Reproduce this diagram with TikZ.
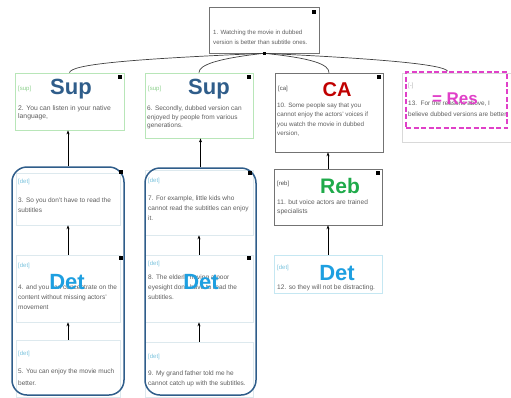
\documentclass[tikz,border=0pt]{standalone}
\usepackage{fontspec}
\setmainfont{Liberation Sans}
\usetikzlibrary{calc,arrows.meta,fit}
\definecolor{txtgray}{HTML}{5E5E5E}
\definecolor{supgreen}{HTML}{8ACF8A}
\definecolor{supborder}{HTML}{B8E6B8}
\definecolor{dettag}{HTML}{7CC3DD}
\definecolor{detborder}{HTML}{C5E7F2}
\definecolor{inner}{HTML}{DDE9EE}
\definecolor{colout}{HTML}{2F5D8A}
\definecolor{suplab}{HTML}{2F5D8A}
\definecolor{calab}{HTML}{C00000}
\definecolor{reblab}{HTML}{1FAA4A}
\definecolor{detlab}{HTML}{1E9FE0}
\definecolor{reslab}{HTML}{E040C8}
\tikzset{
  gbox/.style={draw=black!55, line width=0.6pt},
  sbox/.style={draw=supborder, line width=0.8pt},
  dbox/.style={draw=detborder, line width=0.8pt},
  ibox/.style={draw=inner, line width=0.6pt},
  colbox/.style={draw=colout, line width=1.5pt, rounded corners=15pt},
  txt/.style={font=\fontsize{6.5}{8.8}\selectfont, text=txtgray, anchor=north west, inner sep=0pt, align=left},
  tag/.style={font=\fontsize{6}{7}\selectfont, anchor=base west, inner sep=0pt},
  big/.style={font=\fontsize{22}{22}\selectfont\bfseries, inner sep=0pt},
  sq/.style={fill=black, minimum size=4pt, inner sep=0pt},
  arr/.style={-{Stealth[length=4pt,width=3pt]}, line width=0.6pt},
  con/.style={line width=0.7pt, black!75}
}
\begin{document}
\begin{tikzpicture}[x=1pt,y=-1pt]
\useasboundingbox (0,0) rectangle (511,397);
% top
\node[gbox, fit={(209,7)(319,53)}, inner sep=0pt] (top) {};
\node[txt, font=\fontsize{6.1}{10.5}\selectfont] (t1) at (213,29.6) {1. Watching the movie in dubbed\\version is better than subtitle ones.};
\node[sq] (q0) at (314,12) {};
% row 1
\node[sbox, fit={(15,73)(124,130)}, inner sep=0pt] (sup1) {};
\node[tag, text=supgreen] (g2) at (18,90) {[sup]};
\node[big, text=suplab] (L2) at (71,89) {Sup};
\node[txt, font=\fontsize{6.8}{8}\selectfont] (t2) at (18,105) {2. You can listen in your native\\language,};
\node[sq] (q2) at (120,77) {};

\node[sbox, fit={(145,73)(253,138)}, inner sep=0pt] (sup2) {};
\node[tag, text=supgreen] (g6) at (148,90) {[sup]};
\node[big, text=suplab] (L6) at (209,89) {Sup};
\node[txt] (t6) at (147,105.3) {6. Secondly, dubbed version can\\enjoyed by people from various\\generations.};
\node[sq] (q6) at (249,77) {};

\node[gbox, fit={(275,73)(383,152)}, inner sep=0pt] (ca) {};
\node[tag, text=black!70] (g10) at (278,90) {[ca]};
\node[big, text=calab, font=\fontsize{20}{20}\selectfont\bfseries] (L10) at (337,90) {CA};
\node[txt, font=\fontsize{6.3}{9.5}\selectfont] (t10) at (277,102.5) {10. Some people say that you\\cannot enjoy the actors' voices if\\you watch the movie in dubbed\\version,};
\node[sq] (q10) at (379,77) {};

\node[draw=black!15, fit={(402,73)(511,142)}, inner sep=0pt] (resbg) {};
\node[draw=reslab, dashed, dash pattern=on 5pt off 2.5pt, line width=1.6pt, fit={(406,72)(507,128)}, inner sep=0pt] (res) {};
\node[tag, text=black!30] (g13) at (408,87) {[-]};
\node[txt, font=\fontsize{6.4}{11}\selectfont] (t13) at (408,100.4) {13.\ \ For the reasons above, I\\believe dubbed versions are better};
\node[font=\fontsize{17}{17}\selectfont\bfseries, text=reslab, inner sep=0pt] (L13) at (455,99) {= Res};

% column 1
\node[ibox, fit={(16,173)(120,225)}, inner sep=0pt] (b3) {};
\node[tag, text=dettag] (g3) at (18,183) {[det]};
\node[txt, font=\fontsize{6.5}{10.5}\selectfont] (t3) at (18,197.3) {3. So you don't have to read the\\subtitles};
\node[ibox, fit={(16,255)(120,322)}, inner sep=0pt] (b4) {};
\node[tag, text=dettag] (g4) at (18,267) {[det]};
\node[txt, font=\fontsize{6.5}{10}\selectfont] (t4) at (18,284.3) {4. and you can concentrate on the\\content without missing actors'\\movement};
\node[ibox, fit={(16,340)(120,397)}, inner sep=0pt] (b5) {};
\node[tag, text=dettag] (g5) at (18,355) {[det]};
\node[txt, font=\fontsize{6.5}{12}\selectfont] (t5) at (18,368.3) {5. You can enjoy the movie much\\better.};
\node[colbox, fit={(12,167)(124,395)}, inner sep=0pt] (col1) {};
\node[big, text=detlab] (L4) at (67,282) {Det};
\node[sq] (q3) at (121,172) {};
\node[sq] (q4) at (121,258) {};

% column 2
\node[ibox, fit={(145,170)(253,235)}, inner sep=0pt] (b7) {};
\node[tag, text=dettag] (g7) at (148,182) {[det]};
\node[txt, font=\fontsize{6.5}{10}\selectfont] (t7) at (148,195.3) {7. For example, little kids who\\cannot read the subtitles can enjoy\\it.};
\node[ibox, fit={(145,255)(253,322)}, inner sep=0pt] (b8) {};
\node[tag, text=dettag] (g8) at (148,265) {[det]};
\node[txt, font=\fontsize{6.5}{10}\selectfont] (t8) at (148,274.3) {8. The elderly having a poor\\eyesight don't have to read the\\subtitles.};
\node[ibox, fit={(145,342)(253,397)}, inner sep=0pt] (b9) {};
\node[tag, text=dettag] (g9) at (148,358) {[det]};
\node[txt, font=\fontsize{6.5}{10}\selectfont] (t9) at (148,370.3) {9. My grand father told me he\\cannot catch up with the subtitles.};
\node[colbox, fit={(145,168)(256,395)}, inner sep=0pt] (col2) {};
\node[big, text=detlab] (L8) at (201,282) {Det};
\node[sq] (q7) at (250,173) {};
\node[sq] (q8) at (249,258) {};

% column 3
\node[gbox, fit={(274,169)(382,225)}, inner sep=0pt] (reb) {};
\node[tag, text=black!70] (g11) at (277,185) {[reb]};
\node[big, text=reblab, font=\fontsize{21}{21}\selectfont\bfseries] (L11) at (340,186) {Reb};
\node[txt, font=\fontsize{6.6}{9.5}\selectfont] (t11) at (277,199.3) {11. but voice actors are trained\\specialists};
\node[sq] (q11) at (378,173) {};
\node[dbox, fit={(274,255)(382,293)}, inner sep=0pt] (d12) {};
\node[tag, text=dettag] (g12) at (277,269) {[det]};
\node[big, text=detlab] (L12) at (337,273) {Det};
\node[txt, font=\fontsize{6.6}{8}\selectfont] (t12) at (277,284.3) {12. so they will not be distracting.};

% connectors from top
\coordinate (j) at (top.south);
\draw[con] (j) .. controls ($(j)+(-140,6)$) and ($(sup1.north)+(2,-8)$) .. (sup1.north);
\draw[con] (j) .. controls ($(j)+(-45,5)$) and ($(sup2.north)+(0,-8)$) .. (sup2.north);
\draw[con] (j) .. controls ($(j)+(50,5)$) and ($(ca.north)+(0,-8)$) .. (ca.north);
\draw[con] (j) .. controls ($(j)+(130,6)$) and ($(res.north)+(-12,-6)$) .. ($(res.north)+(-9,0)$);
\node[sq, minimum size=3pt] (q1) at (j) {};

% arrows
\draw[arr] (col1.north) -- (col1.north |- sup1.south);
\draw[arr] (b4.north) -- (b3.south);
\draw[arr] (b5.north) -- (b4.south);
\draw[arr] (col2.north) -- (col2.north |- sup2.south);
\draw[arr] (b8.north) -- (b7.south);
\draw[arr] (b9.north) -- (b8.south);
\draw[arr] (reb.north) -- (reb.north |- ca.south);
\draw[arr] (d12.north) -- (reb.south);
\end{tikzpicture}
\end{document}
